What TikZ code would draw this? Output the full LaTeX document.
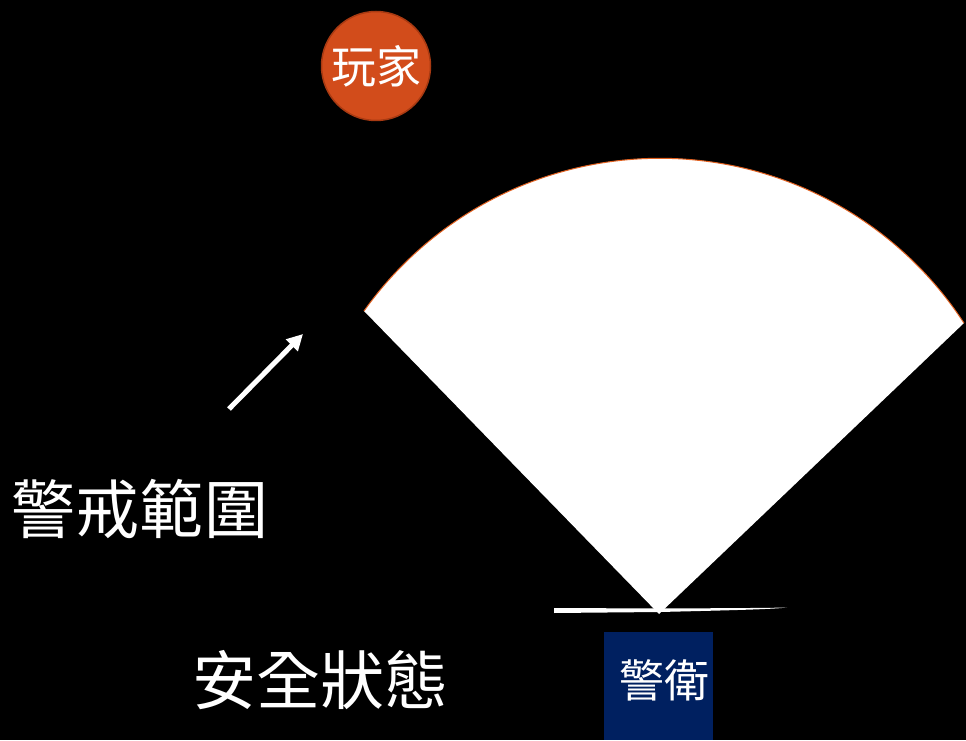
\documentclass[tikz,border=0pt]{standalone}
\usepackage{fontspec}
\newfontfamily\cjk{Noto Sans CJK TC}
\usetikzlibrary{arrows.meta}
\definecolor{playerfill}{HTML}{D24C1B}
\definecolor{playerdraw}{HTML}{A83A12}
\definecolor{guardfill}{HTML}{002060}
\definecolor{arcline}{HTML}{E0601F}
\tikzset{
  bigtext/.style={text=white, font=\cjk\fontsize{64}{64}\selectfont, inner sep=0pt, anchor=center},
  playernode/.style={circle, fill=playerfill, draw=playerdraw, line width=1.5pt, minimum size=109pt, inner sep=0pt, text=white, font=\cjk\fontsize{45}{45}\selectfont},
  guardnode/.style={fill=guardfill, minimum width=109pt, minimum height=108pt, inner sep=0pt},
  guardtext/.style={text=white, font=\cjk\fontsize{45}{45}\selectfont, inner sep=0pt},
  whitearrow/.style={white, line width=5pt, -{Triangle[length=16pt,width=16pt]}}
}
\begin{document}
\begin{tikzpicture}[x=1pt,y=1pt]
\fill[black] (0,0) rectangle (966,740);
\useasboundingbox (0,0) rectangle (966,740);
% sector (vision cone)
\coordinate (apex) at (659,126);
\coordinate (lc) at (364,429);
\fill[white] (apex) -- (lc) arc[start angle=144.6, end angle=33.1, radius=363] -- cycle;
\draw[arcline, line width=1pt] (lc) arc[start angle=144.6, end angle=33.1, radius=363];
% tapered line under apex
\fill[white] (554,132) -- (660,131.5) .. controls (720,131.8) and (770,132) .. (787,132.5) .. controls (770,130.5) and (720,129.5) .. (660,128) -- (554,127) -- cycle;
% player
\node[playernode] (player) at (376,674) {玩家};
% guard
\node[guardnode] (guard) at (658.5,54) {};
\node[guardtext] (guardlabel) at (664,60) {警衛};
% labels
\node[bigtext] (alert) at (140,231) {警戒範圍};
\node[bigtext] (safe) at (320,60) {安全狀態};
% arrow
\coordinate (as) at (229,331);
\coordinate (ae) at (303,406);
\draw[whitearrow] (as) -- (ae);
\end{tikzpicture}
\end{document}
